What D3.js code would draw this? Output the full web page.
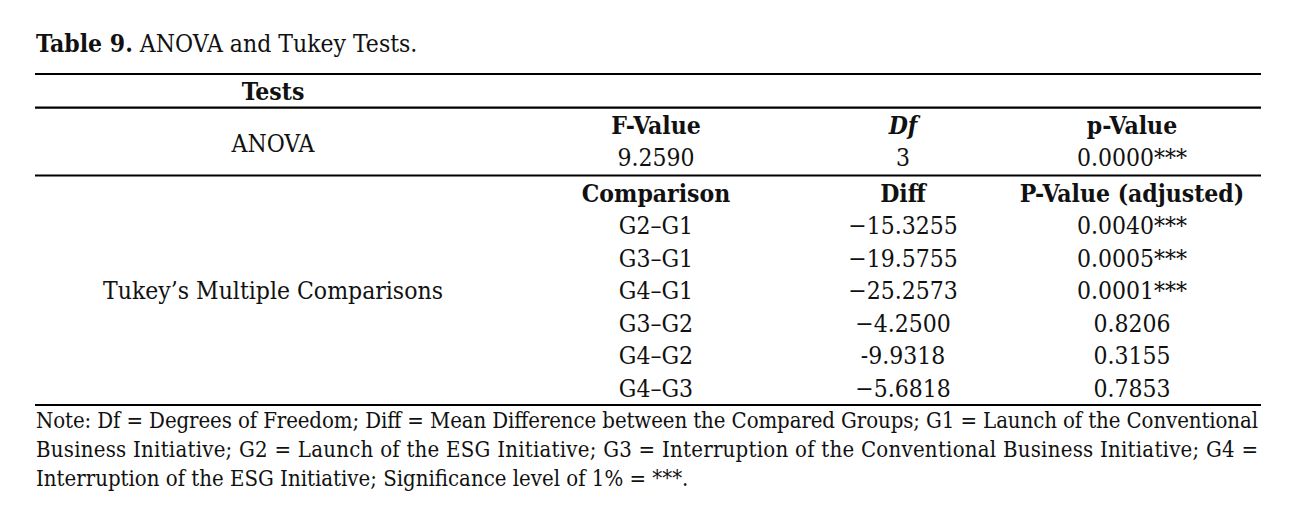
<!DOCTYPE html>
<html>
<head>
<meta charset="utf-8">
<script src="https://cdn.jsdelivr.net/npm/d3@7"></script>
<style>
  body { margin: 0; background: #fff; }
  text { font-family: "DejaVu Serif", serif; font-stretch: condensed; fill: #111; }
</style>
</head>
<body>
<div id="table"></div>
<script>
// table content
const titleBold = "Table 9.";
const titleText = " ANOVA and Tukey Tests.";
const stubHeader = "Tests";
const stubLabels = ["ANOVA", "Tukey\u2019s Multiple Comparisons"];

const anovaHeaders = ["F-Value", "Df", "p-Value"];
const anovaValues = ["9.2590", "3", "0.0000***"];

const tukeyHeaders = ["Comparison", "Diff", "P-Value (adjusted)"];
const comparisons = ["G2\u2013G1", "G3\u2013G1", "G4\u2013G1", "G3\u2013G2", "G4\u2013G2", "G4\u2013G3"];
const diffs = ["\u221215.3255", "\u221219.5755", "\u221225.2573", "\u22124.2500", "-9.9318", "\u22125.6818"];
const pAdjusted = ["0.0040***", "0.0005***", "0.0001***", "0.8206", "0.3155", "0.7853"];

const noteLines = [
    "Note: Df = Degrees of Freedom; Diff = Mean Difference between the Compared Groups; G1 = Launch of the Conventional",
    "Business Initiative; G2 = Launch of the ESG Initiative; G3 = Interruption of the Conventional Business Initiative; G4 =",
    "Interruption of the ESG Initiative; Significance level of 1% = ***."
];

const width = 1295, height = 525;
const left = 35, right = 1261;
const fontSize = 24.5;
const noteSize = 22;

const svg = d3.select("#table").append("svg")
    .attr("width", width)
    .attr("height", height);

// column centres: stub + three data columns
const colX = d3.scaleOrdinal()
    .domain([0, 1, 2, 3])
    .range([273, 656, 903, 1132]);

// rows of the Tukey block
const tukeyY = d3.scaleLinear()
    .domain([0, comparisons.length])
    .range([201.7, 201.7 + 32.5 * comparisons.length]);

// title
const title = svg.append("text")
    .attr("x", left + 1)
    .attr("y", 52)
    .style("font-size", fontSize + "px");
title.append("tspan").attr("font-weight", "bold").text(titleBold);
title.append("tspan").text(titleText);

// horizontal rules
const rules = [74, 107.7, 175.5, 405];
svg.append("g").selectAll("line")
    .data(rules)
    .enter().append("line")
    .attr("x1", left)
    .attr("x2", right)
    .attr("y1", d => d)
    .attr("y2", d => d)
    .attr("stroke", "#000")
    .attr("stroke-width", 2.2);

function cell(x, y, txt, opts) {
    opts = opts || {};
    return svg.append("text")
        .attr("x", x)
        .attr("y", y)
        .attr("text-anchor", "middle")
        .attr("font-weight", opts.bold ? "bold" : null)
        .attr("font-style", opts.italic ? "italic" : null)
        .style("font-size", fontSize + "px")
        .text(txt);
}

// stub column
cell(colX(0), 100, stubHeader, { bold: true });
cell(colX(0), 151.7, stubLabels[0]);
cell(colX(0), 298.5, stubLabels[1]);

// ANOVA block
anovaHeaders.forEach(function (h, i) {
    cell(colX(i + 1), 133.5, h, { bold: true, italic: h === "Df" });
});
anovaValues.forEach(function (v, i) {
    cell(colX(i + 1), 165.7, v);
});

// Tukey block
tukeyHeaders.forEach(function (h, i) {
    cell(colX(i + 1), tukeyY(0), h, { bold: true });
});
comparisons.forEach(function (c, i) {
    cell(colX(1), tukeyY(i + 1), c);
    cell(colX(2), tukeyY(i + 1), diffs[i]);
    cell(colX(3), tukeyY(i + 1), pAdjusted[i]);
});

// note, first two lines justified
noteLines.forEach(function (line, i) {
    const t = svg.append("text")
        .attr("x", left + 1)
        .attr("y", 428 + i * 29)
        .style("font-size", noteSize + "px")
        .text(line);
    if (i < noteLines.length - 1) {
        t.attr("textLength", right - 4 - left)
            .attr("lengthAdjust", "spacing");
    }
});
</script>
</body>
</html>
